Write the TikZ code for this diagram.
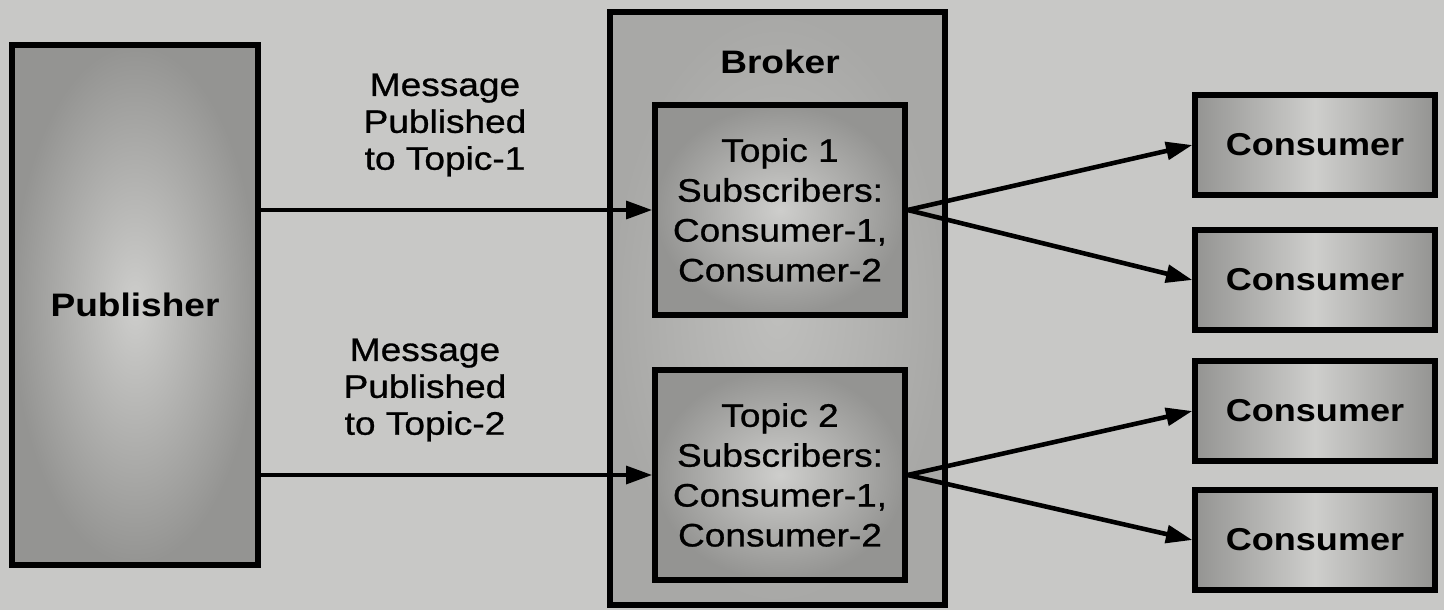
\documentclass[tikz,border=0pt]{standalone}
\usepackage{fontspec}
\setmainfont{Liberation Sans}[FakeStretch=1.14]
\newfontfamily\medfont{Liberation Sans}[FakeStretch=1.14,FakeBold=0.8]
\usetikzlibrary{arrows.meta}
\definecolor{paper}{RGB}{200,200,198}
\definecolor{dots}{RGB}{148,148,146}
\definecolor{brk}{RGB}{168,168,166}
\definecolor{lite}{RGB}{206,206,204}

\begin{document}
\begin{tikzpicture}[
  box/.style={draw=black,line width=3pt,inner color=lite,outer color=dots,align=center,
    font=\fontsize{18.5}{22.7}\medfont},
  cons/.style={draw=black,line width=3pt,left color=dots,right color=dots,middle color=lite,
    minimum width=4.8cm,minimum height=2cm,font=\fontsize{18}{22}\selectfont\bfseries},
  arr/.style={line width=2.6pt,-{Triangle[length=15pt,width=10pt]}},
  lbl/.style={align=center,font=\fontsize{18.5}{21}\medfont}]
\fill[paper] (0,0) rectangle (28.88,-12.2);

% publisher
\node[box,minimum width=4.92cm,minimum height=10.4cm,font=\fontsize{18.5}{22}\selectfont\bfseries] (pub) at (2.7,-6.1) {Publisher};

% broker and its topics
\node[box,inner color=lite!60!brk,outer color=brk,minimum width=6.7cm,minimum height=11.86cm] (broker) at (15.55,-6.17) {};
\node[font=\fontsize{18.5}{22}\selectfont\bfseries] (brokername) at (15.6,-1.24) {Broker};
\node[box,minimum width=5cm,minimum height=4.2cm] (t1) at (15.6,-4.2) {Topic 1\\Subscribers:\\Consumer-1,\\Consumer-2};
\node[box,minimum width=5cm,minimum height=4.2cm] (t2) at (15.6,-9.5) {Topic 2\\Subscribers:\\Consumer-1,\\Consumer-2};

% consumers
\node[cons] (c1) at (26.3,-2.9) {Consumer};
\node[cons] (c2) at (26.3,-5.6) {Consumer};
\node[cons] (c3) at (26.3,-8.22) {Consumer};
\node[cons] (c4) at (26.3,-10.8) {Consumer};

% messages
\draw[arr] (pub.east |- t1.west) -- (t1.west);
\draw[arr] (pub.east |- t2.west) -- (t2.west);
\node[lbl] (m1) at (8.9,-2.5) {Message\\Published\\to Topic-1};
\node[lbl] (m2) at (8.5,-7.8) {Message\\Published\\to Topic-2};

\draw[arr] (t1.east) -- (c1.west);
\draw[arr] (t1.east) -- (c2.west);
\draw[arr] (t2.east) -- (c3.west);
\draw[arr] (t2.east) -- (c4.west);
\end{tikzpicture}
\end{document}
